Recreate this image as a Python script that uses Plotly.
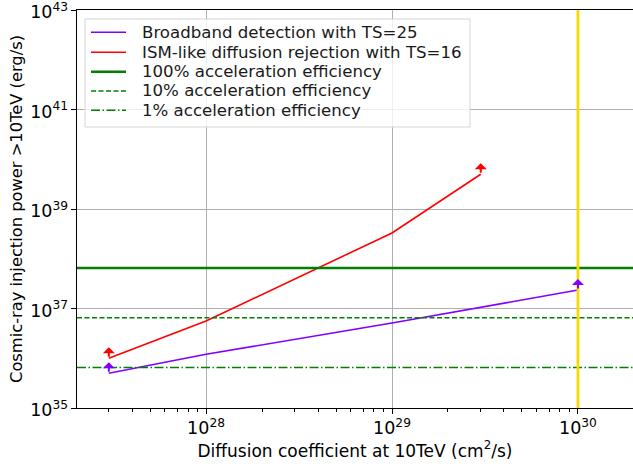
import numpy as np
import plotly.graph_objects as go

# Data
x_broadband = [3e27, 1e28, 1e29, 1e30]
y_broadband = [5.0e35, 1.2e36, 5.1e36, 2.35e37]
x_ism = [3e27, 1e28, 1e29, 3e29]
y_ism = [1.0e36, 5.6e36, 3.3e38, 5.0e39]
eff_labels = ["100% acceleration efficiency", "10% acceleration efficiency", "1% acceleration efficiency"]
eff_values = [6.5e37, 6.5e36, 6.5e35]
vline_x = 1e30

XRANGE_LOG = [27.306, 30.296]
YRANGE_LOG = [35, 43.0005]

purple = "#7F00FF"
red = "#FF0000"
green = "#008000"
gold = "#FFD700"

# styles
eff_dash = ["solid", "5px,2.5px", "9px,2.5px,1.5px,2.5px"]
eff_width = [2.5, 1.5, 1.5]

# Plot-area geometry in pixels
W, H = 633, 464
L, R, T, B = 77, 0, 10, 56
PW, PH = W - L - R, H - T - B


def px2paper(px, py):
    return (px - L) / PW, (H - B - py) / PH


fig = go.Figure()
fig.add_trace(go.Scatter(x=x_broadband, y=y_broadband, mode="lines",
                         line=dict(color=purple, width=1.6),
                         name="Broadband detection with TS=25"))
fig.add_trace(go.Scatter(x=x_ism, y=y_ism, mode="lines",
                         line=dict(color=red, width=1.6),
                         name="ISM-like diffusion rejection with TS=16"))
xr = [10 ** XRANGE_LOG[0], 10 ** XRANGE_LOG[1]]
for lab, v, d, w in zip(eff_labels, eff_values, eff_dash, eff_width):
    fig.add_trace(go.Scatter(x=xr, y=[v, v], mode="lines",
                             line=dict(color=green, width=w, dash=d), name=lab))

fig.add_shape(type="line", xref="x", yref="y domain", x0=vline_x, x1=vline_x,
              y0=0, y1=1, line=dict(color=gold, width=2.8), layer="above")

# Upper-limit arrows at the ends
ends = [(x_broadband[0], y_broadband[0], purple), (x_broadband[-1], y_broadband[-1], purple),
        (x_ism[0], y_ism[0], red), (x_ism[-1], y_ism[-1], red)]
for xv, yv, c in ends:
    fig.add_annotation(x=np.log10(xv), y=np.log10(yv), xref="x", yref="y",
                       showarrow=True, ax=0, ay=11, axref="pixel", ayref="pixel",
                       yshift=11, arrowhead=1, arrowsize=1.0, arrowwidth=2,
                       arrowcolor=c, text="")

# Legend drawn manually (matplotlib-like box)
bx0, by0 = px2paper(85, 127)
bx1, by1 = px2paper(470, 19)
fig.add_shape(type="rect", xref="paper", yref="paper", x0=bx0, y0=by0, x1=bx1, y1=by1,
              line=dict(color="#d5d5d5", width=1), fillcolor="rgba(255,255,255,0.8)",
              layer="above")
legend_names = ["Broadband detection with TS=25", "ISM-like diffusion rejection with TS=16"] + eff_labels
legend_colors = [purple, red, green, green, green]
legend_dash = ["solid", "solid"] + eff_dash
legend_width = [1.6, 1.6] + eff_width
row_y = [32.3, 52.3, 71.7, 90.9, 110.2]
for name, c, d, w, ry in zip(legend_names, legend_colors, legend_dash, legend_width, row_y):
    lx0, ly = px2paper(91, ry)
    lx1, _ = px2paper(126, ry)
    fig.add_shape(type="line", xref="paper", yref="paper", x0=lx0, x1=lx1, y0=ly, y1=ly,
                  line=dict(color=c, width=w, dash=d), layer="above")
    tx, _ = px2paper(140, ry)
    fig.add_annotation(xref="paper", yref="paper", x=tx, y=ly, xanchor="left", yanchor="middle",
                       text=name, showarrow=False,
                       font=dict(family="DejaVu Sans", size=16.6, color="#1a1a1a"))

fig.update_layout(
    width=W, height=H,
    margin=dict(l=L, r=R, t=T, b=B),
    paper_bgcolor="white", plot_bgcolor="white",
    font=dict(family="DejaVu Sans", size=16, color="black"),
    showlegend=False,
)
fig.update_xaxes(type="log", range=XRANGE_LOG, dtick=1, exponentformat="power",
                 automargin=False,
                 showgrid=True, gridcolor="#b0b0b0", gridwidth=1,
                 showline=True, linecolor="black", linewidth=1.2, mirror=True,
                 ticks="outside", ticklen=5, tickcolor="black",
                 tickfont=dict(family="DejaVu Sans", size=14, color="black"),
                 minor=dict(ticks="outside", ticklen=3, tickcolor="black", showgrid=False, dtick="D1"),
                 title=dict(text="Diffusion coefficient at 10TeV (cm<sup>2</sup>/s)",
                            font=dict(family="DejaVu Sans", size=17, color="black"), standoff=0),
                 zeroline=False)
fig.update_yaxes(type="log", range=YRANGE_LOG, tick0=35, dtick=2, exponentformat="power",
                 automargin=False, ticklabeloverflow="allow", ticklabelshift=2,
                 showgrid=True, gridcolor="#b0b0b0", gridwidth=1,
                 showline=True, linecolor="black", linewidth=1.2,
                 ticks="outside", ticklen=5, tickcolor="black",
                 tickfont=dict(family="DejaVu Sans", size=14, color="black"),
                 title=dict(text="Cosmic-ray injection power >10TeV (erg/s)",
                            font=dict(family="DejaVu Sans", size=16.3, color="black"), standoff=3),
                 zeroline=False)

fig.write_html("out.html", config={"displayModeBar": False},
               post_script="document.body.style.margin='0px';")
